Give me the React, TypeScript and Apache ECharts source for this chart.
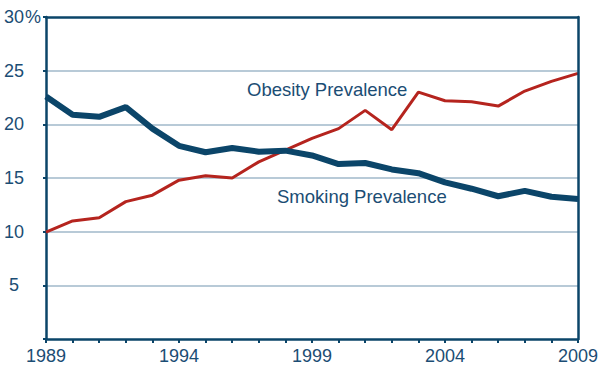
import React, { useEffect, useRef } from "react";
import * as echarts from "echarts";

const years = [1989, 1990, 1991, 1992, 1993, 1994, 1995, 1996, 1997, 1998, 1999, 2000, 2001, 2002, 2003, 2004, 2005, 2006, 2007, 2008, 2009];
const smoking = [22.6, 20.9, 20.7, 21.6, 19.6, 18.0, 17.4, 17.8, 17.45, 17.55, 17.1, 16.3, 16.4, 15.8, 15.45, 14.6, 14.0, 13.3, 13.8, 13.25, 13.05];
const obesity = [9.95, 11.0, 11.3, 12.8, 13.4, 14.8, 15.2, 15.0, 16.5, 17.6, 18.7, 19.6, 21.3, 19.5, 23.0, 22.2, 22.1, 21.7, 23.1, 24.0, 24.75];
const xLabelYears = [1989, 1994, 1999, 2004, 2009];
const yTicks = [5, 10, 15, 20, 25, 30];
const seriesNames = ["Smoking Prevalence", "Obesity Prevalence"];

const DARK = "#0b4569";
const RED = "#b5241e";
const TEXT = "#1b4d74";
const GRID = "#b8cad7";
const FONT = "'Liberation Sans', Arial, Helvetica, sans-serif";

export default function App() {
  const ref = useRef<HTMLDivElement>(null);
  useEffect(() => {
    document.body.style.margin = "0";
    const chart = echarts.init(ref.current!, null, { renderer: "svg" });
    const frameAxis = {
      axisLine: { show: true, onZero: false, lineStyle: { color: DARK, width: 2.5 } },
      axisTick: { show: false },
      axisLabel: { show: false },
      splitLine: { show: false },
    };
    chart.setOption({
      animation: false,
      grid: {
        left: 46,
        right: 25,
        top: 17,
        bottom: 29,
        show: false,
        containLabel: false,
      },
      xAxis: [
        {
          type: "value",
          min: 1989,
          max: 2009,
          interval: 1,
          axisLine: { show: true, onZero: false, lineStyle: { color: DARK, width: 2.5 } },
          axisTick: { show: true, length: 4, lineStyle: { color: DARK, width: 2 } },
          splitLine: { show: false },
          axisLabel: {
            color: TEXT,
            fontFamily: FONT,
            fontSize: 18,
            margin: 8,
            formatter: (v: number) => (xLabelYears.includes(v) ? String(v) : ""),
          },
          z: 5,
        },
        { type: "value", min: 1989, max: 2009, interval: 1, position: "top", ...frameAxis, z: 5 },
      ],
      yAxis: [
        {
          type: "value",
          min: 0,
          max: 30,
          interval: 5,
          axisLine: { show: true, onZero: false, lineStyle: { color: DARK, width: 2.5 } },
          axisTick: { show: true, length: 3, lineStyle: { color: DARK, width: 2 } },
          splitLine: {
            show: true,
            lineStyle: { color: ["rgba(0,0,0,0)", GRID, GRID, GRID, GRID, GRID, "rgba(0,0,0,0)"], width: 2 },
          },
          axisLabel: {
            color: TEXT,
            fontFamily: FONT,
            fontSize: 18,
            margin: 32,
            align: "center",
            formatter: (v: number) => (yTicks.includes(v) ? String(v) : ""),
          },
        },
        { type: "value", min: 0, max: 30, interval: 5, position: "right", ...frameAxis, z: 5 },
      ],
      graphic: [
        {
          type: "text",
          left: 25,
          top: 8,
          style: { text: "%", fill: TEXT, font: `18px ${FONT}` },
        },
        {
          type: "text",
          left: 247,
          top: 80,
          style: { text: seriesNames[1], fill: TEXT, font: `18.5px ${FONT}` },
        },
        {
          type: "text",
          left: 277,
          top: 187,
          style: { text: seriesNames[0], fill: TEXT, font: `18.5px ${FONT}` },
        },
      ],
      series: [
        {
          name: seriesNames[1],
          type: "line",
          xAxisIndex: 0,
          yAxisIndex: 0,
          data: years.map((y, i) => [y, obesity[i]]),
          symbol: "none",
          lineStyle: { color: RED, width: 3 },
          z: 3,
        },
        {
          name: seriesNames[0],
          type: "line",
          xAxisIndex: 0,
          yAxisIndex: 0,
          data: years.map((y, i) => [y, smoking[i]]),
          symbol: "none",
          lineStyle: { color: DARK, width: 6 },
          z: 4,
        },
      ],
    });
    return () => chart.dispose();
  }, []);
  return <div ref={ref} style={{ width: 603, height: 368 }} />;
}
